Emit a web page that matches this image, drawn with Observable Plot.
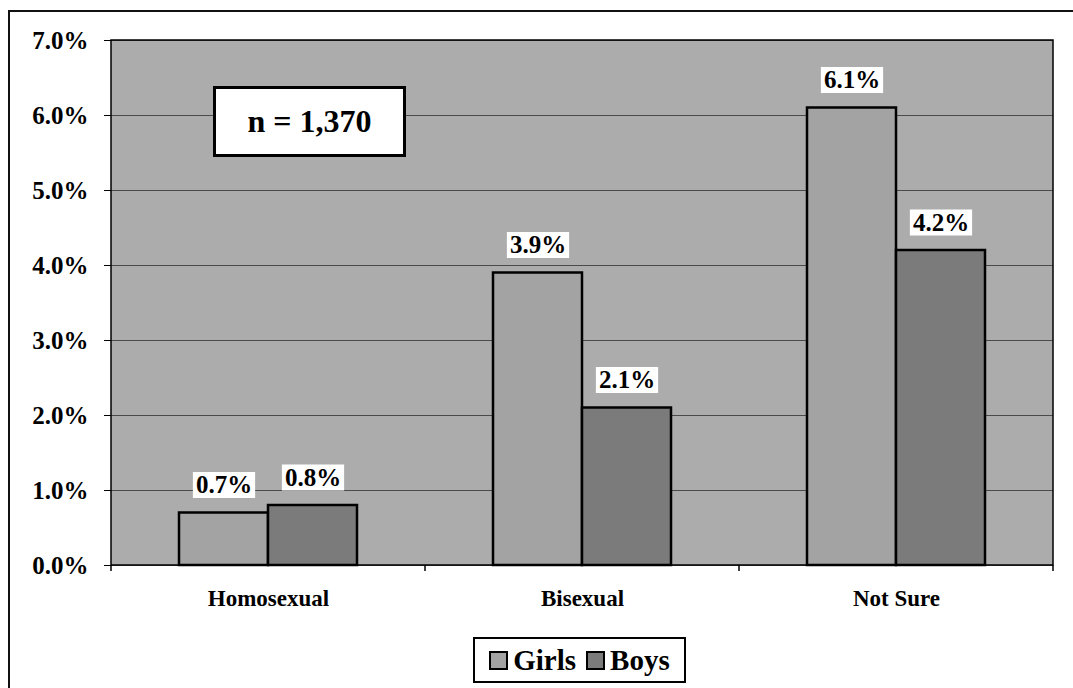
<!DOCTYPE html>
<html>
<head>
<meta charset="utf-8">
<script src="https://cdn.jsdelivr.net/npm/d3@7"></script>
<script src="https://cdn.jsdelivr.net/npm/@observablehq/plot@0.6"></script>
<style>
  html, body { margin: 0; padding: 0; background: #fff; }
  body { width: 1073px; height: 688px; position: relative; overflow: hidden;
         font-family: 'Liberation Serif', 'Times New Roman', serif; }
  #outer { position: absolute; left: 8px; top: 10px; width: 1100px; height: 700px;
           border-top: 2px solid #111; border-left: 2px solid #111; }
  #chart { position: absolute; left: 0; top: 0; }
  #note { position: absolute; left: 213px; top: 86px; width: 187px; height: 65px;
          border: 3px solid #000; background: #fff; font-weight: bold; font-size: 32px;
          font-family: 'Liberation Serif', 'Times New Roman', serif;
          display: flex; align-items: center; justify-content: center; }
  #legend { position: absolute; left: 473px; top: 637px; width: 209px; height: 42px;
            border: 2px solid #000; background: #fff; display: flex; align-items: center;
            justify-content: center; gap: 4px; font-weight: bold; font-size: 29px;
            font-family: 'Liberation Serif', 'Times New Roman', serif; }
  .item { display: flex; align-items: center; gap: 5px; margin: 0 3px; }
  .sw { width: 15px; height: 15px; border: 2px solid #000; }
  #chart svg, #chart svg text { font-family: 'Liberation Serif', 'Times New Roman', serif !important; }
</style>
</head>
<body>
<div id="outer"></div>
<div id="chart"></div>
<div id="note"></div>
<div id="legend"></div>
<script>
// ---- data ----
const categories = ["Homosexual", "Bisexual", "Not Sure"];
const groups = ["Girls", "Boys"];
const girlsValues = [0.7, 3.9, 6.1];
const boysValues = [0.8, 2.1, 4.2];
const yTicks = [0, 1, 2, 3, 4, 5, 6, 7];
const sampleNote = "n = 1,370";
const groupColors = ["#a3a3a3", "#7b7b7b"];
const plotBackground = "#acacac";

const rows = [];
categories.forEach((c, i) => {
  rows.push({cat: c, sex: "Girls", value: girlsValues[i]});
  rows.push({cat: c, sex: "Boys", value: boysValues[i]});
});

const fmt = d => d.toFixed(1) + "%";
const W = 1073, H = 630, mL = 111, mR = 20, mT = 40, mB = 65;
const serif = "'Liberation Serif', 'Times New Roman', serif";

const plot = Plot.plot({
  width: W, height: H,
  marginLeft: mL, marginRight: mR, marginTop: mT, marginBottom: mB,
  style: {fontFamily: serif, background: "transparent", color: "#000"},
  fx: {domain: categories, padding: 0, axis: null},
  x: {domain: groups, paddingInner: 0, paddingOuter: 0.764, axis: null},
  y: {domain: [0, 7], axis: null},
  color: {domain: groups, range: groupColors},
  marks: [
    Plot.gridY(yTicks, {stroke: "#2a2a2a", strokeOpacity: 0.75, strokeWidth: 1}),
    Plot.barY(rows, {fx: "cat", x: "sex", y: "value", fill: "sex", stroke: "#000", strokeWidth: 2.5}),
    Plot.text(rows, {fx: "cat", x: "sex", y: "value", text: d => fmt(d.value), dy: -28,
      fontSize: 25, fontWeight: "bold", fontFamily: serif, fill: "#000"}),
    Plot.axisY(yTicks, {tickFormat: fmt, tickSize: 7, tickPadding: 16, fontSize: 25,
      fontWeight: "bold", fontFamily: serif, label: null}),
    Plot.axisFx({anchor: "bottom", tickSize: 0, tickPadding: 24, fontSize: 23,
      fontWeight: "bold", fontFamily: serif, label: null})
  ]
});

document.getElementById("chart").appendChild(plot);
const svg = d3.select(plot);

// single background rect for the whole plot area
svg.insert("rect", ":first-child")
  .attr("x", mL).attr("y", mT).attr("width", W - mL - mR).attr("height", H - mT - mB)
  .attr("fill", plotBackground);

// white boxes behind value labels
svg.selectAll('g[aria-label="text"] text').each(function() {
  const b = this.getBBox();
  const padX = 3, padY = 1;
  d3.select(this.parentNode).insert("rect", () => this)
    .attr("x", b.x - padX).attr("y", b.y + padY)
    .attr("width", b.width + 2 * padX).attr("height", b.height - padY)
    .attr("transform", this.getAttribute("transform"))
    .attr("fill", "#fff");
});

// plot-area border and category boundary ticks
const fx = plot.scale("fx");
const edges = categories.map(c => fx.apply(c));
edges.push(fx.apply(categories[categories.length - 1]) + fx.bandwidth);
svg.append("g").selectAll("line").data(edges).join("line")
  .attr("x1", d => d).attr("x2", d => d)
  .attr("y1", H - mB).attr("y2", H - mB + 6)
  .attr("stroke", "#000").attr("stroke-width", 1.5);
svg.append("rect")
  .attr("x", mL).attr("y", mT).attr("width", W - mL - mR).attr("height", H - mT - mB)
  .attr("fill", "none").attr("stroke", "#000").attr("stroke-width", 1.5);

document.getElementById("note").textContent = sampleNote;
const legend = d3.select("#legend");
groups.forEach((g, i) => {
  const item = legend.append("div").attr("class", "item");
  item.append("div").attr("class", "sw").style("background", groupColors[i]);
  item.append("span").text(g);
});
</script>
</body>
</html>
